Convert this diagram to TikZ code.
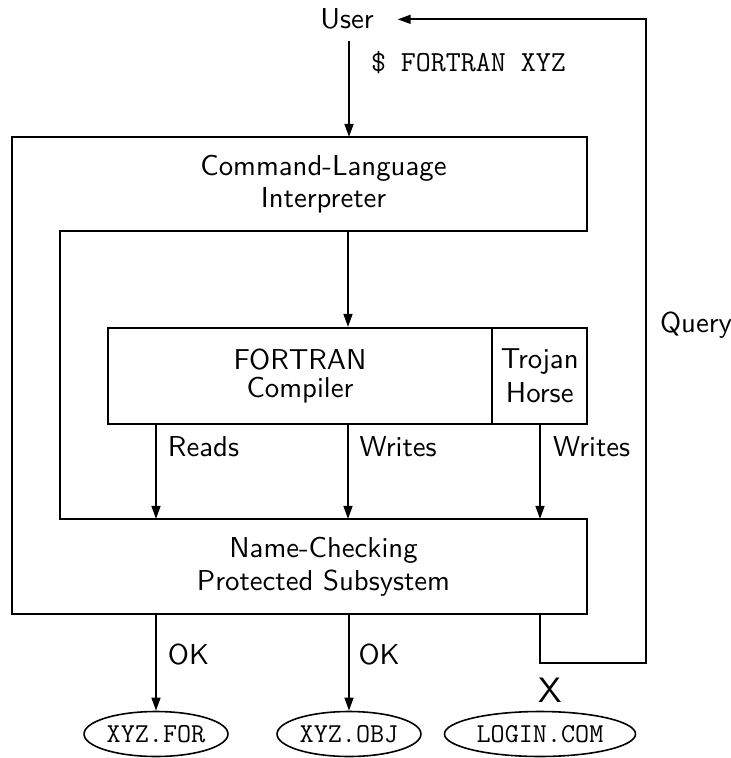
\documentclass[tikz,border=0pt]{standalone}
\usepackage{fontspec}
\setsansfont{lmsans10-regular.otf}
\usetikzlibrary{arrows.meta,shapes.geometric}
\begin{document}
\begin{tikzpicture}[x=0.5669pt,y=-0.5669pt,
  line width=1.13pt,
  arr/.style={-{Triangle[length=7.4pt,width=5pt]}},
  sans/.style={font=\fontsize{16.3}{19}\selectfont\sffamily},
  lbl/.style={sans, inner sep=0pt, anchor=base west},
  boxtext/.style={sans, align=center, inner sep=0pt},
  cbox/.style={draw, rectangle, minimum height=54.4pt, inner sep=0pt, align=center},
  file/.style={draw, ellipse, line width=0.9pt, minimum height=25.5pt, inner sep=0pt,
    font=\fontsize{15.5}{18}\selectfont\ttfamily}
]
\useasboundingbox (0,0) rectangle (730,758);

% user and the command typed
\node[sans, anchor=base, inner xsep=13pt, inner ysep=5.7pt] (user) at (347,29) {User};
\node[lbl, font=\fontsize{16.5}{19}\selectfont\ttfamily] (cmd) at (370,72) {\$ FORTRAN XYZ};

% frame shared by the interpreter and the protected subsystem
\coordinate (f1) at (12,137);
\coordinate (f2) at (587,137);
\coordinate (f3) at (587,231);
\coordinate (f4) at (60,231);
\coordinate (f5) at (60,519);
\coordinate (f6) at (587,519);
\coordinate (f7) at (587,614);
\coordinate (f8) at (12,614);
\draw (f1) -- (f2) -- (f3) -- (f4) -- (f5) -- (f6) -- (f7) -- (f8) -- cycle;

\node[boxtext, font=\fontsize{16.3}{18.1}\selectfont\sffamily] (cli) at (323.5,184)
  {Command-Language\\Interpreter};
\node[boxtext, font=\fontsize{16.3}{18.7}\selectfont\sffamily] (ncps) at (323.5,567)
  {Name-Checking\\Protected Subsystem};

% compiler with the trojan horse inside
\node[cbox, minimum width=217.7pt, font=\fontsize{16.3}{16.4}\selectfont\sffamily]
  (comp) at (300,376) {FORTRAN\\Compiler};
\node[cbox, minimum width=54.1pt, font=\fontsize{16.3}{19.3}\selectfont\sffamily]
  (trojan) at (539.75,376) {Trojan\\Horse};

% files
\node[file, minimum width=81.6pt] (xfor) at (156,734) {XYZ.FOR};
\node[file, minimum width=81.6pt] (xobj) at (349,734) {XYZ.OBJ};
\node[file, minimum width=108.3pt] (login) at (540,734) {LOGIN.COM};

% connection points on the frame
\coordinate (clitop) at (349,137);
\coordinate (cliout) at (348,231);
\coordinate (rdin) at (156,519);
\coordinate (wrin) at (348,519);
\coordinate (thin) at (540,519);
\coordinate (okfor) at (156,614);
\coordinate (okobj) at (349,614);
\coordinate (qs) at (540,614);
\coordinate (qc) at (646,663);

\draw[arr] (user.south -| clitop) -- (clitop);
\draw[arr] (cliout) -- (cliout |- comp.north);
\draw[arr] (rdin |- comp.south) -- (rdin);
\draw[arr] (wrin |- comp.south) -- (wrin);
\draw[arr] (thin |- trojan.south) -- (thin);
\draw[arr] (okfor) -- (xfor.north);
\draw[arr] (okobj) -- (xobj.north);
\draw[arr] (qs) |- (qc) |- (user.east);

% labels
\node[lbl] (lrd) at (167,456) {Reads};
\node[lbl] (lwr) at (358.5,456) {Writes};
\node[lbl] (lth) at (552,456) {Writes};
\node[lbl] (lq) at (659,332) {Query};
\node[lbl] (lok1) at (167,664) {OK};
\node[lbl] (lok2) at (357.5,664) {OK};
\node[font=\fontsize{20}{24}\selectfont\sffamily, anchor=base, inner sep=0pt] (lx) at (550,702) {X};
\end{tikzpicture}
\end{document}
